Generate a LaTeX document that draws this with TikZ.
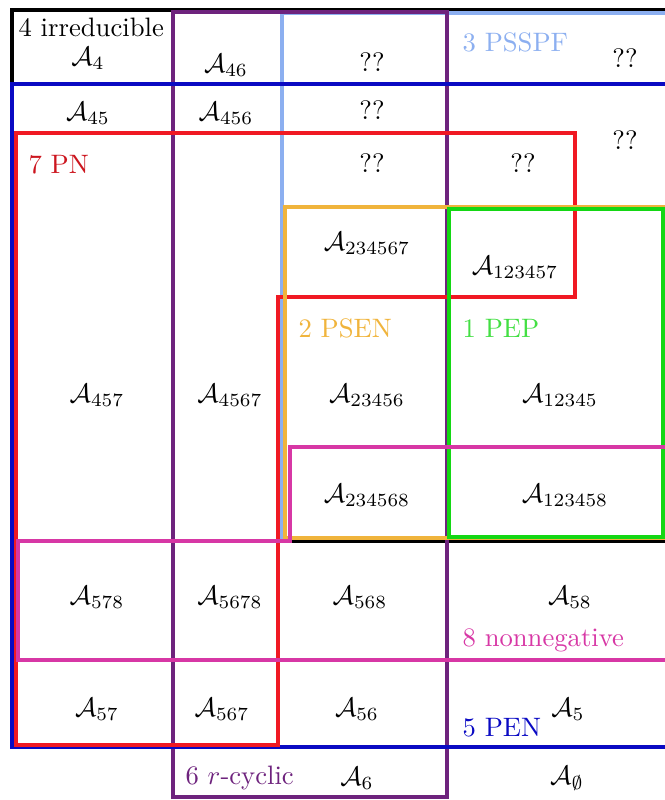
\documentclass[tikz,border=0pt]{standalone}
\usepackage{amsmath,amssymb}
\usepackage{xcolor}
\usetikzlibrary{positioning}

\definecolor{pepgreen}{RGB}{20,215,20}
\definecolor{psenorange}{RGB}{240,180,60}
\definecolor{psspfblue}{RGB}{140,175,240}
\definecolor{penblue}{RGB}{10,10,195}
\definecolor{cycpurple}{RGB}{110,35,125}
\definecolor{pnred}{RGB}{240,25,35}
\definecolor{nnmagenta}{RGB}{215,55,165}

\begin{document}
\begin{tikzpicture}[x=0.375pt, y=-0.375pt,
  setline/.style={line width=1.3pt, line join=miter},
  setlabel/.style={anchor=west, inner sep=0pt},
  cell/.style={inner sep=0pt}
]
  \useasboundingbox (0,0) rectangle (665,800);
  \clip (0,0) rectangle (665,800);

  % 4 irreducible and 3 PSSPF
  \draw[setline, black] (12,10) rectangle (668,541);
  \draw[setline, psspfblue] (282,13) rectangle (668,538);
  % 6 r-cyclic
  \draw[setline, cycpurple] (173,12) rectangle (447,797);
  % 5 PEN
  \draw[setline, penblue] (12,84) rectangle (668,747);
  % 7 PN
  \draw[setline, pnred] (16,133) -- (575,133) -- (575,297) -- (278,297)
    -- (278,745) -- (16,745) -- cycle;
  % 2 PSEN and 1 PEP
  \draw[setline, psenorange] (285,207) rectangle (668,538);
  \draw[setline, pepgreen, line width=1.7pt] (449,209) rectangle (663,537);
  % 8 nonnegative
  \draw[setline, nnmagenta] (290,447) -- (668,447) -- (668,660) -- (18,660)
    -- (18,541) -- (290,541) -- cycle;

  % Set labels
  \node[setlabel] (irr) at (18,27) {4 irreducible};
  \node[setlabel, text=psspfblue] (psspf) at (462,42) {3 PSSPF};
  \node[setlabel, text=pnred!85!black] (pn) at (28,165) {7 PN};
  \node[setlabel, text=psenorange] (psen) at (298,328) {2 PSEN};
  \node[setlabel, text=pepgreen!80!white] (pep) at (462,328) {1 PEP};
  \node[setlabel, text=nnmagenta] (nonneg) at (462,640) {8 nonnegative};
  \node[setlabel, text=penblue] (pen) at (462,728) {5 PEN};
  \node[setlabel, text=cycpurple] (rcyc) at (185,778) {6 $r$-cyclic};

  % Classes
  \foreach \x/\y/\nm/\sub in {88/58/a4/4, 226/65/a46/46, 88/113/a45/45, 226/113/a456/456,
    367/243/a234567/234567, 515/267/a123457/123457,
    97/395/a457/457, 230/395/a4567/4567, 367/395/a23456/23456, 560/395/a12345/12345,
    367/495/a234568/234568, 565/495/a123458/123458,
    97/597/a578/578, 230/597/a5678/5678, 360/597/a568/568, 570/597/a58/58,
    97/709/a57/57, 222/709/a567/567, 357/709/a56/56, 568/709/a5/5,
    357/778/a6/6}
    \node[cell] (\nm) at (\x,\y) {$\mathcal{A}_{\sub}$};
  \node[cell] (aempty) at (567,778) {$\mathcal{A}_{\emptyset}$};

  % Unknown classes
  \foreach \x/\y/\nm in {372/62/qa, 625/58/qb, 372/110/qc, 625/140/qd, 372/163/qe, 523/163/qf}
    \node[cell] (\nm) at (\x,\y) {??};
\end{tikzpicture}
\end{document}
